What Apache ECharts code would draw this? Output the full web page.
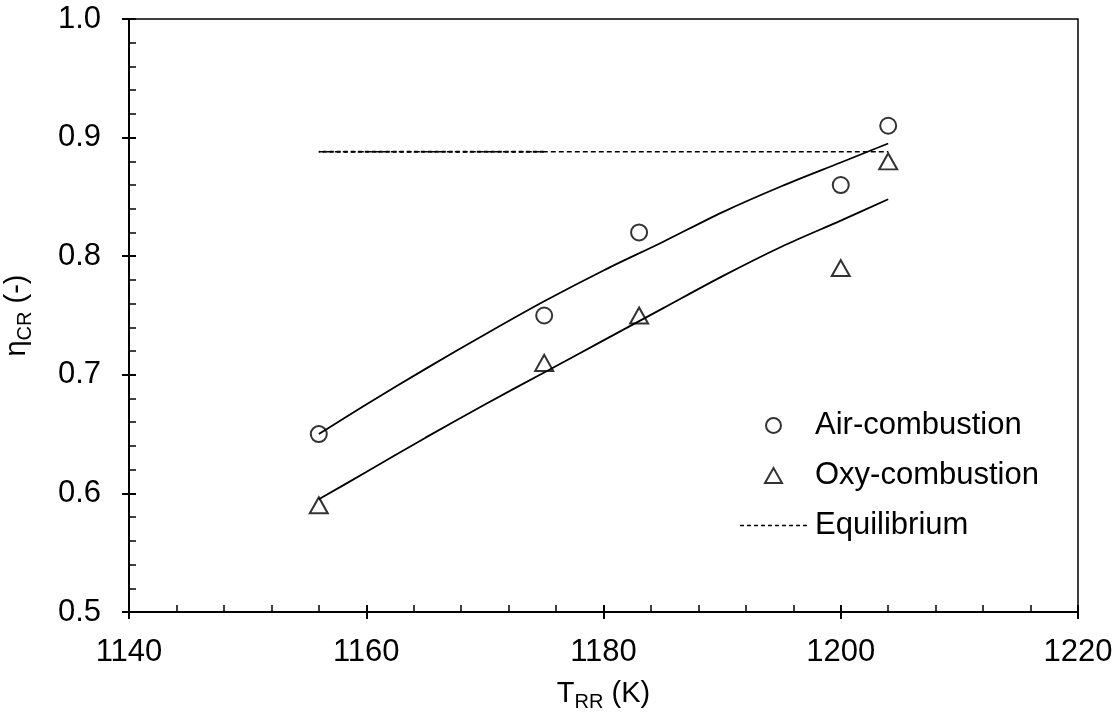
<!DOCTYPE html>
<html>
<head>
<meta charset="utf-8">
<script src="https://cdn.jsdelivr.net/npm/echarts@6/dist/echarts.min.js"></script>
<style>
  html, body { margin: 0; padding: 0; background: #fff; }
  #chart { width: 1120px; height: 715px; }
</style>
</head>
<body>
<div id="chart"></div>
<script>
// Measured conversion efficiency against reformer temperature
const tempAir = [1156, 1175, 1183, 1200, 1204];
const etaAir  = [0.65, 0.75, 0.82, 0.86, 0.91];
const tempOxy = [1156, 1175, 1183, 1200, 1204];
const etaOxy  = [0.59, 0.71, 0.75, 0.79, 0.88];

// Fitted trend curves
const fitTemp   = [1156, 1160, 1165, 1170, 1175, 1180, 1185, 1190, 1195, 1200, 1204];
const fitAirEta = [0.650, 0.675, 0.705, 0.734, 0.762, 0.788, 0.812, 0.837, 0.859, 0.879, 0.895];
const fitOxyEta = [0.595, 0.618, 0.647, 0.675, 0.702, 0.729, 0.756, 0.783, 0.808, 0.830, 0.848];

// Equilibrium level
const eqTemp = [1156, 1204];
const eqEta  = [0.888, 0.888];
const eqDenseTemp = [1156, 1175];
const eqDenseEta  = [0.888, 0.888];

const xTicks = { min: 1140, max: 1220, interval: 20 };
const yTicks = { min: 0.5, max: 1.0, interval: 0.1 };

const pairs = (xs, ys) => xs.map((x, i) => [x, ys[i]]);

const FONT = 'Liberation Sans, Arial, sans-serif';
const black = '#000';

// Dashed-line legend glyph: a row of short bars
function dashedIcon(total, dash, gap, thick) {
  let d = '';
  for (let x = 0; x < total; x += dash + gap) {
    const w = Math.min(dash, total - x);
    d += 'M' + x + ',0h' + w + 'v' + thick + 'h-' + w + 'z';
  }
  return 'path://' + d;
}
// Upright triangle legend glyph
const triangleIcon = 'path://M0,15L8.5,0L17,15Z';

const chart = echarts.init(document.getElementById('chart'), null, { renderer: 'canvas' });

const baseX = {
  type: 'value', min: xTicks.min, max: xTicks.max, interval: xTicks.interval,
  splitLine: { show: false },
  axisLine: { show: true, onZero: false, lineStyle: { color: black, width: 2 } }
};
const baseY = {
  type: 'value', min: yTicks.min, max: yTicks.max, interval: yTicks.interval,
  splitLine: { show: false },
  axisLine: { show: true, onZero: false, lineStyle: { color: black, width: 2 } }
};

const titleRich = {
  m: { fontSize: 29, fontFamily: FONT, color: black, lineHeight: 34, verticalAlign: 'bottom' },
  s: { fontSize: 20, fontFamily: FONT, color: black, lineHeight: 26, verticalAlign: 'bottom', padding: [0, 0, -4, 0] }
};

const hollow = { color: 'rgba(255,255,255,0)', borderColor: black, borderWidth: 2 };

chart.setOption({
  backgroundColor: '#fff',
  animation: false,
  grid: {
    left: 129, right: 42, top: 19, bottom: 103,
    containLabel: false, outerBoundsMode: 'none',
    show: true, borderColor: black, borderWidth: 1.5, backgroundColor: 'transparent'
  },
  xAxis: [
    Object.assign({}, baseX, {
      position: 'bottom',
      axisTick: { show: true, inside: false, length: 7, lineStyle: { color: black, width: 2 } },
      axisLabel: { color: black, fontSize: 31, fontFamily: FONT, margin: 25,
                   formatter: v => String(v) },
      name: '{m|T}{s|RR}{m| (K)}',
      nameLocation: 'middle',
      nameGap: 62,
      nameTextStyle: { color: black, fontFamily: FONT, rich: titleRich }
    }),
    Object.assign({}, baseX, {
      position: 'bottom',
      axisLabel: { show: false },
      axisTick: { show: true, inside: true, length: 7, lineStyle: { color: black, width: 2 } },
      minorTick: { show: true, splitNumber: 5, length: 7, lineStyle: { color: black, width: 1.5 } }
    })
  ],
  yAxis: [
    Object.assign({}, baseY, {
      position: 'left',
      axisTick: { show: true, inside: false, length: 7, lineStyle: { color: black, width: 2 } },
      axisLabel: { color: black, fontSize: 31, fontFamily: FONT, margin: 28,
                   formatter: v => v.toFixed(1) },
      name: '{m|η}{s|CR}{m| (-)}',
      nameLocation: 'middle',
      nameGap: 98,
      nameTextStyle: { color: black, fontFamily: FONT, rich: titleRich }
    }),
    Object.assign({}, baseY, {
      position: 'left',
      axisLabel: { show: false },
      axisTick: { show: true, inside: true, length: 7, lineStyle: { color: black, width: 2 } },
      minorTick: { show: true, splitNumber: 5, length: 7, lineStyle: { color: black, width: 1.5 } }
    })
  ],
  legend: {
    orient: 'vertical',
    left: 740, top: 410, padding: 0,
    itemWidth: 67, itemHeight: 15, itemGap: 19,
    symbolKeepAspect: true,
    data: [
      { name: 'Air-combustion', icon: 'circle', itemStyle: hollow },
      { name: 'Oxy-combustion', icon: triangleIcon, itemStyle: hollow },
      { name: 'Equilibrium', icon: dashedIcon(67, 4, 3, 1.5),
        itemStyle: { color: black, borderWidth: 0 } }
    ],
    textStyle: { color: black, fontSize: 31, fontFamily: FONT, padding: [0, 0, 0, 3] }
  },
  series: [
    {
      name: 'Air-combustion', type: 'scatter', z: 3,
      symbol: 'circle', symbolSize: 16,
      itemStyle: hollow,
      data: pairs(tempAir, etaAir)
    },
    {
      name: 'Oxy-combustion', type: 'scatter', z: 3,
      symbol: 'triangle', symbolSize: [18, 16],
      itemStyle: hollow,
      data: pairs(tempOxy, etaOxy)
    },
    {
      name: 'Equilibrium', type: 'line', z: 4,
      symbol: 'none', smooth: false,
      lineStyle: { color: black, width: 1.5, type: [5, 3] },
      itemStyle: { color: black },
      data: pairs(eqTemp, eqEta)
    },
    {
      name: 'Equilibrium overlap', type: 'line', z: 4,
      symbol: 'none',
      lineStyle: { color: black, width: 2, type: [4, 3], dashOffset: 3 },
      data: pairs(eqDenseTemp, eqDenseEta)
    },
    {
      name: 'Air fit', type: 'line', z: 5,
      symbol: 'none', smooth: 0.3,
      lineStyle: { color: black, width: 1.8 },
      data: pairs(fitTemp, fitAirEta)
    },
    {
      name: 'Oxy fit', type: 'line', z: 5,
      symbol: 'none', smooth: 0.3,
      lineStyle: { color: black, width: 1.8 },
      data: pairs(fitTemp, fitOxyEta)
    }
  ]
});
</script>
</body>
</html>
